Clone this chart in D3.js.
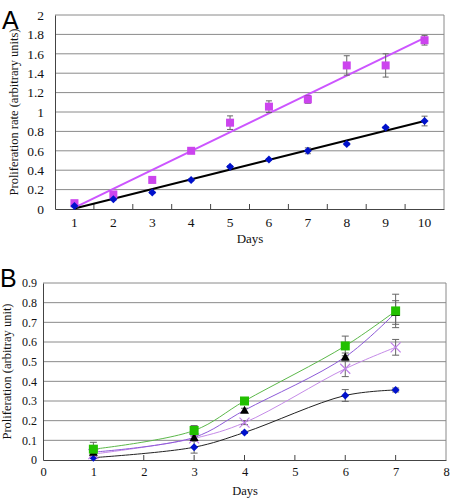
<!DOCTYPE html>
<html><head><meta charset="utf-8">
<script src="https://cdn.jsdelivr.net/npm/d3@7"></script>
<style>body{margin:0;background:#fff}svg{display:block}</style>
</head><body>
<svg id="c" width="450" height="499"></svg>
<script>
// ---- Panel A data ----
const daysA = [1,2,3,4,5,6,7,8,9,10];
const magentaA = [0.06,0.15,0.30,0.60,0.89,1.055,1.13,1.48,1.48,1.74];
const magentaErrA = [0.02,0.02,0.03,0.01,0.07,0.06,0.04,0.10,0.12,0.05];
const blueA = [0.03,0.10,0.17,0.30,0.436,0.51,0.60,0.67,0.84,0.907];
const blueErrA = [0.01,0.01,0.01,0.01,0.01,0.01,0.03,0.01,0.01,0.05];
const yTicksA = [0,0.2,0.4,0.6,0.8,1,1.2,1.4,1.6,1.8,2];

// ---- Panel B data ----
const daysB = [1,3,4,6,7];
const greenB = [0.055,0.15,0.30,0.58,0.758];
const greenErrB = [0.035,0.025,0.005,0.05,0.085];
const triB = [0.04,0.115,0.253,0.524,0.75];
const triErrB = [0.01,0.015,0.01,0.02,0.06];
const crossB = [0.03,0.11,0.19,0.464,0.573];
const crossErrB = [0.01,0.01,0.01,0.04,0.04];
const diamB = [0.012,0.065,0.14,0.328,0.356];
const diamErrB = [0.005,0.03,0.005,0.03,0.01];
const yTicksB = [0,0.1,0.2,0.3,0.4,0.5,0.6,0.7,0.8,0.9];
const xTicksB = [0,1,2,3,4,5,6,7,8];

const svg = d3.select("#c");
const serif = "'Liberation Serif','Times New Roman',serif";

function linreg(xs, ys){
  const n=xs.length, mx=d3.mean(xs), my=d3.mean(ys);
  let sxy=0,sxx=0;
  for(let i=0;i<n;i++){sxy+=(xs[i]-mx)*(ys[i]-my);sxx+=(xs[i]-mx)**2;}
  const b=sxy/sxx; return x=>my+b*(x-mx);
}

// ================= Panel A =================
{
  const L=55,R=444,T=15,B=209;
  const x = d3.scaleBand().domain(daysA).range([L,R]);
  const cx = d=>x(d)+x.bandwidth()/2;
  const y = d3.scaleLinear().domain([0,2]).range([B,T]);
  const g = svg.append("g");
  g.selectAll(".gr").data(yTicksA.slice(1)).join("line")
    .attr("x1",L).attr("x2",R).attr("y1",d=>y(d)).attr("y2",d=>y(d))
    .attr("stroke","#8a8a8a").attr("stroke-width",1);
  g.append("line").attr("x1",R).attr("x2",R).attr("y1",T).attr("y2",B).attr("stroke","#8a8a8a");
  const ya = d3.axisLeft(y).tickValues(yTicksA).tickSize(0).tickPadding(11).tickFormat(d3.format("~g"));
  const yg = g.append("g").attr("transform",`translate(${L},0)`).call(ya);
  yg.select(".domain").attr("stroke","#444");
  yg.selectAll("text").attr("font-family",serif).attr("font-size",13.5).attr("fill","#111");
  const xa = d3.axisBottom(x).tickSize(0).tickPadding(8);
  const xg = g.append("g").attr("transform",`translate(0,${B})`).call(xa);
  xg.select(".domain").attr("stroke","#444");
  xg.selectAll("text").attr("font-family",serif).attr("font-size",13.5).attr("fill","#111");
  g.selectAll(".bt").data(daysA.slice(1)).join("line")
    .attr("x1",d=>x(d)).attr("x2",d=>x(d)).attr("y1",B).attr("y2",B-5).attr("stroke","#444");
  g.append("text").attr("transform",`translate(18,${(T+B)/2}) rotate(-90)`).attr("text-anchor","middle")
    .attr("font-family",serif).attr("font-size",12.5).attr("fill","#111").text("Proliferation rate (arbitrary units)");
  g.append("text").attr("x",250).attr("y",243).attr("text-anchor","middle")
    .attr("font-family",serif).attr("font-size",13).attr("fill","#111").text("Days");
  g.append("text").attr("x",2).attr("y",29).attr("font-family","'Liberation Sans',Arial,sans-serif")
    .attr("font-size",25).attr("fill","#000").text("A");
  const fm = linreg(daysA, magentaA), fb = linreg(daysA, blueA);
  g.append("line").attr("x1",cx(1)).attr("x2",cx(10)).attr("y1",y(fm(1))).attr("y2",y(fm(10)))
    .attr("stroke","#cc55ff").attr("stroke-width",2);
  g.append("line").attr("x1",cx(1)).attr("x2",cx(10)).attr("y1",y(fb(1))).attr("y2",y(fb(10)))
    .attr("stroke","#000").attr("stroke-width",2);
  function errs(vals, errsArr, col){
    daysA.forEach((d,i)=>{
      const e=errsArr[i], X=cx(d);
      g.append("line").attr("x1",X).attr("x2",X).attr("y1",y(vals[i]-e)).attr("y2",y(vals[i]+e)).attr("stroke",col);
      [vals[i]-e, vals[i]+e].forEach(v=>g.append("line").attr("x1",X-3).attr("x2",X+3).attr("y1",y(v)).attr("y2",y(v)).attr("stroke",col));
    });
  }
  errs(magentaA, magentaErrA, "#666");
  errs(blueA, blueErrA, "#666");
  g.selectAll(".sq").data(daysA).join("rect")
    .attr("x",d=>cx(d)-4).attr("y",(d,i)=>y(magentaA[i])-4).attr("width",8).attr("height",8).attr("fill","#cc44ee");
  g.selectAll(".dm").data(daysA).join("path")
    .attr("d",(d,i)=>`M${cx(d)},${y(blueA[i])-4}l4,4l-4,4l-4,-4z`).attr("fill","#0011cc");
}

// ================= Panel B =================
{
  const L=43,R=446,T=283,B=460;
  const x = d3.scaleLinear().domain([0,8]).range([L,R]);
  const y = d3.scaleLinear().domain([0,0.9]).range([B,T]);
  const g = svg.append("g");
  g.selectAll(".gr").data(yTicksB.slice(1)).join("line")
    .attr("x1",L).attr("x2",R).attr("y1",d=>y(d)).attr("y2",d=>y(d))
    .attr("stroke","#8a8a8a");
  g.append("line").attr("x1",R).attr("x2",R).attr("y1",T).attr("y2",B).attr("stroke","#8a8a8a");
  const ya = d3.axisLeft(y).tickValues(yTicksB).tickSize(0).tickPadding(6).tickFormat(d3.format("~g"));
  const yg = g.append("g").attr("transform",`translate(${L},0)`).call(ya);
  yg.select(".domain").attr("stroke","#444");
  yg.selectAll("text").attr("font-family",serif).attr("font-size",12).attr("fill","#111");
  const xa = d3.axisBottom(x).tickValues(xTicksB).tickSize(0).tickPadding(7).tickFormat(d3.format("d"));
  const xg = g.append("g").attr("transform",`translate(0,${B})`).call(xa);
  xg.select(".domain").attr("stroke","#444");
  xg.selectAll("text").attr("font-family",serif).attr("font-size",12.5).attr("fill","#111");
  g.selectAll(".bt").data(xTicksB.slice(1,-1)).join("line")
    .attr("x1",d=>x(d)).attr("x2",d=>x(d)).attr("y1",B).attr("y2",B-5).attr("stroke","#444");
  g.append("text").attr("transform",`translate(11,${(T+B)/2}) rotate(-90)`).attr("text-anchor","middle")
    .attr("font-family",serif).attr("font-size",12.5).attr("fill","#111").text("Proliferation (arbitray unit)");
  g.append("text").attr("x",245).attr("y",495).attr("text-anchor","middle")
    .attr("font-family",serif).attr("font-size",12.5).attr("fill","#111").text("Days");
  g.append("text").attr("x",0).attr("y",287).attr("font-family","'Liberation Sans',Arial,sans-serif")
    .attr("font-size",25).attr("fill","#000").text("B");
  const line = d3.line().x(d=>x(d[0])).y(d=>y(d[1])).curve(d3.curveCatmullRom.alpha(0.5));
  const series = [
    {v:diamB,e:diamErrB,line:"#222"},
    {v:crossB,e:crossErrB,line:"#c58be8"},
    {v:triB,e:triErrB,line:"#8d5ad8"},
    {v:greenB,e:greenErrB,line:"#5cb84a"}
  ];
  series.forEach(s=>{
    g.append("path").datum(daysB.map((d,i)=>[d,s.v[i]])).attr("d",line)
      .attr("fill","none").attr("stroke",s.line).attr("stroke-width",1);
  });
  series.forEach(s=>{
    daysB.forEach((d,i)=>{
      const e=s.e[i], X=x(d);
      g.append("line").attr("x1",X).attr("x2",X).attr("y1",y(s.v[i]-e)).attr("y2",y(s.v[i]+e)).attr("stroke","#666");
      [s.v[i]-e,s.v[i]+e].forEach(v=>g.append("line").attr("x1",X-3.5).attr("x2",X+3.5).attr("y1",y(v)).attr("y2",y(v)).attr("stroke","#666"));
    });
  });
  g.selectAll(".dm").data(daysB).join("path")
    .attr("d",(d,i)=>`M${x(d)},${y(diamB[i])-4}l4,4l-4,4l-4,-4z`).attr("fill","#0011cc");
  g.selectAll(".cr").data(daysB).join("path")
    .attr("d",(d,i)=>`M${x(d)-5},${y(crossB[i])-5}l10,10M${x(d)+5},${y(crossB[i])-5}l-10,10`)
    .attr("stroke","#c080e8").attr("stroke-width",1.2).attr("fill","none");
  g.selectAll(".tr").data(daysB).join("path")
    .attr("d",(d,i)=>`M${x(d)},${y(triB[i])-4.5}l4.5,8l-9,0z`).attr("fill","#000");
  g.selectAll(".sq").data(daysB).join("rect")
    .attr("x",d=>x(d)-4.5).attr("y",(d,i)=>y(greenB[i])-4.5).attr("width",9).attr("height",9).attr("fill","#22c000");
}
</script>
</body></html>
